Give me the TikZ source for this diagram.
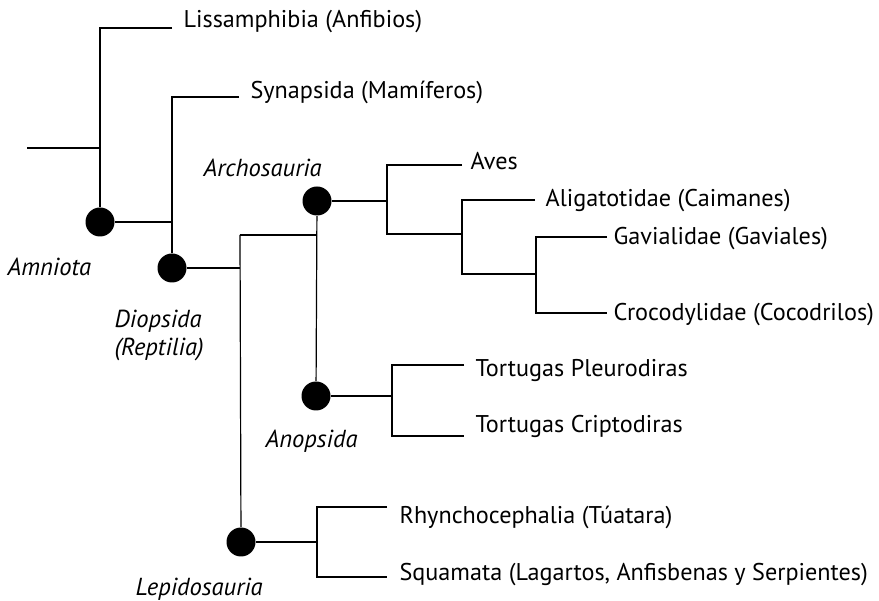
\documentclass[tikz,border=0pt]{standalone}
\usepackage{fontspec}
\setmainfont{PT Sans}
\begin{document}
\begin{tikzpicture}[x=1pt,y=-1pt,line width=1.2pt,
  dot/.style={circle,fill=black,draw=none,minimum size=29pt,inner sep=0pt},
  leaf/.style={anchor=base west,inner sep=0pt,font=\fontsize{24.2}{28}\selectfont},
  clade/.style={anchor=base west,inner sep=0pt,font=\fontsize{24.6}{28}\selectfont\itshape}]
\useasboundingbox (0,0) rectangle (879,601);

% clade dots
\node[dot] (amn) at (100,222) {};
\node[dot] (dio) at (172,268) {};
\node[dot] (arc) at (317,201) {};
\node[dot] (ano) at (316,396) {};
\node[dot] (lep) at (241,542) {};

% clade labels
\node[clade] (lAmn) at (7,276) {Amniota};
\node[clade,anchor=north west,align=left] (lDio) at (114,309) {Diopsida\\(Reptilia)};
\node[clade] (lArc) at (203,177) {Archosauria};
\node[clade] (lAno) at (265,448) {Anopsida};
\node[clade] (lLep) at (135,595) {Lepidosauria};

% leaf labels
\node[leaf] (tLiss) at (183,27.5) {Lissamphibia (Anfibios)};
\node[leaf] (tSyn)  at (250,99)   {Synapsida (Mamíferos)};
\node[leaf] (tAves) at (470,170)  {Aves};
\node[leaf] (tAlig) at (545,207)  {Aligatotidae (Caimanes)};
\node[leaf] (tGav)  at (613,245)  {Gavialidae (Gaviales)};
\node[leaf] (tCroc) at (613,320.5){Crocodylidae (Cocodrilos)};
\node[leaf] (tTP)   at (475,377)  {Tortugas Pleurodiras};
\node[leaf] (tTC)   at (475,433)  {Tortugas Criptodiras};
\node[leaf] (tRh)   at (399,524)  {Rhynchocephalia (Túatara)};
\node[leaf] (tSq)   at (399,580.5){Squamata (Lagartos, Anfisbenas y Serpientes)};

% line ends and junctions
\coordinate (root)  at (27,148);
\coordinate (j1)    at (100,148);
\coordinate (eLiss) at (172,28);
\coordinate (k2)    at (172,222);
\coordinate (eSyn)  at (239,97);
\coordinate (k3)    at (240,268);
\coordinate (k4)    at (240,235);
\coordinate (k5)    at (317,235);
\coordinate (k6)    at (387,201);
\coordinate (eAves) at (462,165);
\coordinate (k7)    at (387,234);
\coordinate (k8)    at (462,234);
\coordinate (eAlig) at (535,200);
\coordinate (k9)    at (462,274);
\coordinate (k10)   at (536,274);
\coordinate (eGav)  at (607,237);
\coordinate (g1)    at (536,237);
\coordinate (g2)    at (536,313);
\coordinate (eCroc) at (607,313);
\coordinate (k12)   at (392,396);
\coordinate (eTP)   at (464,365);
\coordinate (t1)    at (392,365);
\coordinate (t2)    at (392,436);
\coordinate (eTC)   at (464,436);
\coordinate (k14)   at (317,542);
\coordinate (eRh)   at (387,507);
\coordinate (r1)    at (317,507);
\coordinate (r2)    at (317,577);
\coordinate (eSq)   at (387,577);

% connectors
\draw (root) -- (j1);
\draw (eLiss) -| (amn);
\draw (amn) -- (k2);
\draw (eSyn) -| (dio);
\draw (dio) -- (k3);
\draw (k4) -- (lep);
\draw (k4) -- (k5);
\draw (arc) -- (ano);
\draw (arc) -- (k6);
\draw (eAves) -| (k7) -- (k8);
\draw (eAlig) -| (k9) -- (k10);
\draw (eGav) -- (g1) -- (g2) -- (eCroc);
\draw (ano) -- (k12);
\draw (eTP) -- (t1) -- (t2) -- (eTC);
\draw (lep) -- (k14);
\draw (eRh) -- (r1) -- (r2) -- (eSq);
\end{tikzpicture}
\end{document}
